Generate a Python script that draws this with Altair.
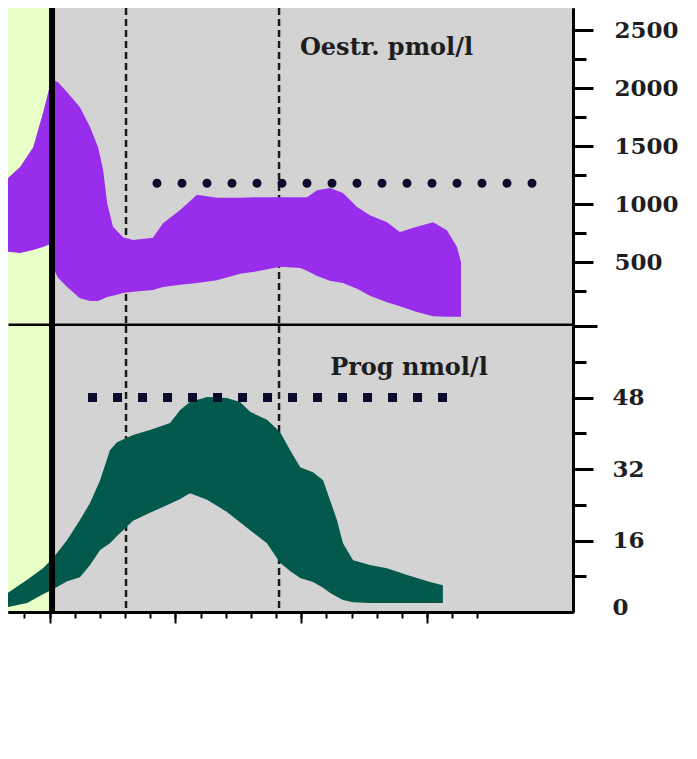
import altair as alt
import pandas as pd

# ---------------- data ----------------
x_min, x_max = -6.65, 15.8
x_minor_ticks = list(range(-6, 13))
x_major_ticks = [-5, 0, 5, 10]

oe_day = [-6.65, -6.17, -5.65, -5.26, -4.98, -4.86, -4.66, -4.30, -3.79, -3.39,
          -3.07, -2.87, -2.71, -2.48, -2.08, -1.68, -0.89, -0.49, 0.19, 0.86,
          1.65, 2.57, 3.36, 4.16, 4.96, 5.23, 5.63, 6.14, 6.66, 7.22,
          7.73, 8.41, 8.92, 9.60, 10.24, 10.79, 11.19, 11.35]
oe_high = [1225, 1320, 1490, 1785, 2025, 2070, 2050, 1965, 1835, 1665,
           1490, 1295, 1010, 805, 715, 690, 710, 835, 950, 1080,
           1055, 1055, 1060, 1060, 1060, 1060, 1120, 1140, 1095, 975,
           905, 845, 760, 805, 845, 775, 630, 500]
oe_low = [590, 580, 605, 630, 655, 450, 365, 285, 190, 165,
          165, 185, 200, 210, 235, 245, 260, 285, 305, 320,
          345, 400, 425, 460, 450, 425, 380, 340, 320, 270,
          210, 155, 120, 70, 35, 30, 30, 30]

pr_day = [-6.65, -5.89, -5.26, -4.86, -4.30, -3.79, -3.39, -2.99, -2.60, -2.32,
          -1.68, -1.01, -0.21, 0.19, 0.58, 1.26, 2.05, 2.57, 2.97, 3.64,
          4.16, 4.56, 4.96, 5.47, 5.87, 6.14, 6.42, 6.66, 7.06, 7.73,
          8.41, 9.21, 10.12, 10.63]
pr_high = [4.3, 7.2, 9.8, 12.1, 16.1, 20.6, 24.4, 29.5, 36.2, 38.0,
           39.6, 40.7, 42.3, 45.2, 47.0, 48.1, 47.9, 47.0, 44.8, 43.0,
           40.3, 36.2, 32.4, 31.3, 29.5, 25.1, 20.6, 15.4, 11.6, 10.5,
           9.8, 8.3, 6.7, 6.0]
pr_low = [1.1, 2.0, 4.0, 5.1, 6.9, 7.8, 10.5, 13.9, 15.4, 17.0,
          20.4, 22.2, 24.2, 25.3, 26.6, 25.1, 22.4, 20.1, 18.3, 15.4,
          11.0, 9.2, 7.6, 6.7, 5.4, 4.3, 3.4, 2.7, 2.2, 2.0,
          2.0, 2.0, 2.0, 2.0]

oe_minor_ticks = [250, 500, 750, 1000, 1250, 1500, 1750, 2000, 2250, 2500]
oe_major_ticks = [500, 1000, 1500, 2000, 2500]
oe_edge_tick = [-50]
pr_minor_ticks = [8, 16, 24, 32, 40, 48, 56]
pr_major_ticks = [16, 32, 48]
pr_zero_label = [0]
oe_domain = [-50, 2690]
pr_domain = [0, 64]

black_line_day = [-4.90]
dashed_days = [-1.96, 4.12]

oe_ref = {"day": [-0.73], "day2": [14.33], "v": [1180]}
pr_ref = {"day": [-3.47], "day2": [10.95], "v": [48]}
oe_title = {"day": [4.95], "v": [2345], "label": ["Oestr. pmol/l"]}
pr_title = {"day": [6.15], "v": [54.6], "label": ["Prog nmol/l"]}

# ---------------- styles ----------------
PURPLE = "#982deb"
TEAL = "#03594c"
GREEN = "#e9ffc8"
GRAY = "#d3d3d3"
DOT = "#0b0b2e"
FONT = "DejaVu Serif"
W = 565

xscale = alt.Scale(domain=[x_min, x_max], nice=False, zero=False)
LABEL_STYLE = dict(labelFont=FONT, labelFontWeight="bold", labelFontSize=23,
                   labelColor="#1e1e1e", labelOverlap=False, labelFlush=False,
                   labelBound=False, format="d")


def y_axis(values, size, labels, pad=20, ticks=True, domain=True, offset=0):
    kw = dict(orient="right", values=values, title=None, grid=False,
              domain=domain, domainColor="black", domainWidth=3,
              ticks=ticks, tickColor="black", tickWidth=3, zindex=1)
    if ticks:
        kw["tickSize"] = size
    if labels:
        kw.update(labels=True, labelPadding=pad, labelOffset=offset, **LABEL_STYLE)
    else:
        kw.update(labels=False)
    return alt.Axis(**kw)


def x_axis(values, size, width=3):
    if values is None:
        return alt.Axis(orient="bottom", ticks=False, labels=False, title=None,
                        grid=False, domainColor="black", domainWidth=width, zindex=1)
    return alt.Axis(orient="bottom", values=values, labels=False, title=None,
                    grid=False, domainColor="black", domainWidth=width,
                    tickColor="black", tickWidth=2, tickSize=size, zindex=1)


def panel(day, high, low, color, domain, y_minor, y_major, y_extra, x_minor, x_major,
          ref, ref_style, title, height):
    yscale = alt.Scale(domain=domain, nice=False, zero=False)
    band = pd.DataFrame({"day": day, "hi": high, "lo": low})

    green = alt.Chart(pd.DataFrame({"day": [x_min], "day2": black_line_day})).mark_rect(
        color=GREEN, clip=True).encode(
        x=alt.X("day:Q", scale=xscale, axis=None), x2="day2:Q")

    dashed = alt.Chart(pd.DataFrame({"day": dashed_days})).mark_rule(
        color="#1a1a1a", strokeWidth=2.5, strokeDash=[7, 4], clip=True).encode(
        x=alt.X("day:Q", scale=xscale, axis=None))

    area = alt.Chart(band).mark_area(color=color, opacity=1, clip=True).encode(
        x=alt.X("day:Q", scale=xscale, axis=x_minor),
        y=alt.Y("hi:Q", scale=yscale, axis=y_minor),
        y2="lo:Q")

    black = alt.Chart(pd.DataFrame({"day": black_line_day})).mark_rule(
        color="black", strokeWidth=6, clip=True).encode(
        x=alt.X("day:Q", scale=xscale, axis=None))

    refline = alt.Chart(pd.DataFrame(ref)).mark_rule(color=DOT, clip=True, **ref_style).encode(
        x=alt.X("day:Q", scale=xscale, axis=x_major), x2="day2:Q",
        y=alt.Y("v:Q", scale=yscale, axis=y_major))

    txt = alt.Chart(pd.DataFrame(title)).mark_text(
        align="left", baseline="middle", font=FONT, fontWeight="bold",
        fontSize=24, color="#1e1e1e", clip=True).encode(
        x=alt.X("day:Q", scale=xscale, axis=None),
        y=alt.Y("v:Q", scale=yscale, axis=y_extra),
        text="label:N")

    return alt.layer(green, dashed, area, black, refline, txt).resolve_axis(
        x="independent", y="independent").properties(width=W, height=height)


top = panel(
    oe_day, oe_high, oe_low, PURPLE, oe_domain,
    y_axis(oe_minor_ticks, 13, False),
    y_axis(oe_major_ticks, 20, True, 21),
    y_axis(oe_edge_tick, 24, False, domain=False),
    x_axis(None, 0, width=6), None,
    oe_ref, dict(strokeWidth=9, strokeDash=[0.001, 25], strokeCap="round"),
    oe_title, 318)

bottom = panel(
    pr_day, pr_high, pr_low, TEAL, pr_domain,
    y_axis(pr_minor_ticks, 13, False),
    y_axis(pr_major_ticks, 20, True, 19),
    y_axis(pr_zero_label, 0, True, 39, ticks=False, domain=False, offset=-5),
    x_axis(x_minor_ticks, 6), x_axis(x_major_ticks, 11),
    pr_ref, dict(strokeWidth=9, strokeDash=[9, 16], strokeCap="butt"),
    pr_title, 286)

chart = alt.vconcat(top, bottom, spacing=0, bounds="flush").properties(
    padding=0,
    background="white",
).configure_view(fill=GRAY, stroke=None)

chart.save("out.html", embed_options={"renderer": "svg", "actions": False})
